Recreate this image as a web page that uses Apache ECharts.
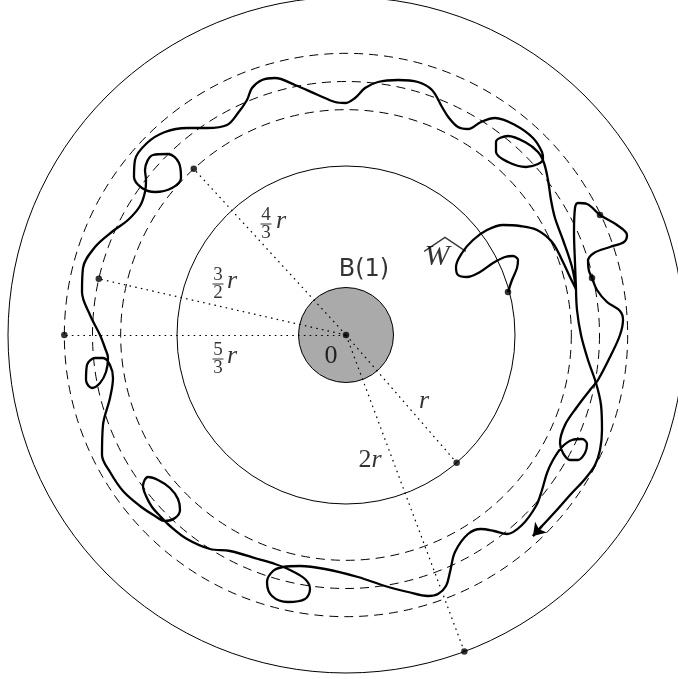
<!DOCTYPE html>
<html><head><meta charset="utf-8">
<script src="https://cdn.jsdelivr.net/npm/echarts/dist/echarts.min.js"></script>
<style>html,body{margin:0;padding:0;background:#fff}#c{width:678px;height:679px}</style>
</head><body><div id="c"></div>
<script>
// units: 1 unit = 1 px in this picture, origin at the centre 0, y upwards
const r = 169;
const solidRings = [1, 2];            // multiples of r
const dashedRings = [4/3, 3/2, 5/3];  // multiples of r
const ballRadius = [47.5];            // B(1)

// dotted rays from 0: radius factor (x r) and angle (deg)
const rayFactors = [4/3, 3/2, 5/3, 1, 2];
const rayAngles  = [132.5, 167.2, 180, -49.1, -69.5];

// the path W-hat, in three pieces (cusps between them)
const curveStart = [[162,43],[166,55],[171,67],[172,75],[167,79],[159,78],[147,72],[134,63],[121,58],[112,60],[110,68],[116,82],[127,95],[141,105],[157,110],[174,109],[191,105],[206,93],[216,75],[224,58],[230,46]];
const curveMain = [[230,46],[229,72],[228,103],[229,127],[232,132],[241,131],[254,120],[271,110],[281,100],[278,93],[264,88],[248,82],[242,74],[243,64],[246,57],[251,45],[261,33],[274,24],[277,15],[274,0],[265,-20],[252,-45],[244,-55],[231,-72],[219,-90],[214,-108],[217,-118],[224,-125],[232,-125],[239,-118],[241,-109],[236,-104],[226,-105],[216,-112],[207,-125],[201,-138],[196,-155],[190,-171],[176,-190],[161,-199],[148,-196],[135,-194],[122,-199],[109,-217],[104,-237],[100,-251],[92,-259],[82,-261],[62,-257],[39,-251],[12,-242],[-21,-234],[-46,-231],[-63,-232],[-73,-236],[-79,-247],[-74,-261],[-58,-267],[-41,-264],[-36,-254],[-41,-244],[-56,-235],[-71,-229],[-88,-224],[-116,-216],[-136,-214],[-159,-204],[-176,-191],[-186,-181],[-194,-172],[-200,-161],[-203,-151],[-198,-142],[-188,-145],[-176,-153],[-168,-164],[-166,-175],[-171,-183],[-181,-186],[-191,-181],[-206,-171],[-223,-156],[-236,-137],[-244,-120],[-243,-90],[-236,-63],[-233,-43],[-236,-30],[-243,-23],[-251,-23],[-259,-30],[-260,-45],[-254,-53],[-246,-48],[-240,-37],[-238,-23],[-241,-13],[-246,0],[-256,20],[-264,43],[-263,67],[-251,88],[-233,104],[-218,115],[-206,129],[-201,143],[-200,155],[-201,165],[-193,180],[-178,181],[-167,172],[-165,157],[-174,147],[-191,143],[-204,147],[-212,158],[-211,175],[-199,192],[-181,203],[-159,207],[-139,207],[-119,210],[-108,222],[-99,235],[-94,247],[-84,255],[-71,257],[-51,250],[-28,240],[-11,233],[-1,232],[9,237],[19,247],[32,253],[52,255],[72,253],[86,245],[96,228],[103,217],[112,208],[122,206],[135,213],[149,217],[169,210],[187,197],[196,183],[197,176],[192,171],[180,168],[162,173],[150,183],[150,193],[162,199],[179,193],[192,183],[198,172],[202,155],[205,135],[209,117],[217,95],[226,68],[230,46]];
const curveEnd = [[230,46],[231,25],[235,0],[242,-25],[250,-48],[255,-70],[256,-95],[254,-115],[249,-130],[239,-144],[225,-159],[209,-177],[196,-191],[187,-201]];
const curveDots = [[162,43],[254,120],[246,57]];

// texts
const fracNums = ['4', '3', '5'];
const fracDens = ['3', '2', '3'];
const fracAnchors = [[-80,111], [-128,51], [-128,-24]];
const fracRAnchors = [[-65,114], [-114,54], [-114,-21]];
const textItems = [
  {text: '{sf|B(1)}', at: [18,65]},
  {text: '{rm|0}', at: [-15,-21]},
  {text: '{it|r}', at: [78,-66]},
  {text: '{rm|2}{it|r}', at: [24,-125]},
  {text: '{itw|W}', at: [91,78]},
  {text: '{hat|︿}', at: [99,104]}
];

const rich = {
  rm: {fontFamily: 'Liberation Serif', fontSize: 26, color: '#000'},
  it: {fontFamily: 'Liberation Serif', fontSize: 26, fontStyle: 'italic', color: '#000'},
  itw: {fontFamily: 'Liberation Serif', fontSize: 30, fontStyle: 'italic', color: '#000'},
  sn: {fontFamily: 'Liberation Serif', fontSize: 19, lineHeight: 17, color: '#000', align: 'center'},
  bar: {width: 11, height: 1, lineHeight: 1, backgroundColor: '#000', align: 'center'},
  sf: {fontFamily: 'DejaVu Sans', fontSize: 24, color: '#000'},
  hat: {fontFamily: 'Noto Sans CJK SC', fontSize: 46, fontWeight: 'lighter', color: '#000'}
};

function rad(d) { return d * Math.PI / 180; }
const rayEnds = rayFactors.map((f, i) => [f * r * Math.cos(rad(rayAngles[i])), f * r * Math.sin(rad(rayAngles[i]))]);

function ringSeries(list, dash, z) {
  return {
    type: 'custom', coordinateSystem: 'cartesian2d', silent: true, z: z,
    data: list.map(f => [0, 0, f]),
    renderItem: function (params, api) {
      const c = api.coord([api.value(0), api.value(1)]);
      const rr = api.size([api.value(2) * r, 0])[0];
      return {type: 'circle', shape: {cx: c[0], cy: c[1], r: rr},
        style: {fill: 'none', stroke: '#000', lineWidth: 1, lineDash: dash}};
    }
  };
}

const ballSeries = {
  type: 'custom', coordinateSystem: 'cartesian2d', silent: true, z: 2,
  data: ballRadius.map(v => [0, 0, v]),
  renderItem: function (params, api) {
    const c = api.coord([api.value(0), api.value(1)]);
    const rr = api.size([api.value(2), 0])[0];
    return {type: 'circle', shape: {cx: c[0], cy: c[1], r: rr},
      style: {fill: '#aaaaaa', stroke: '#000', lineWidth: 1}};
  }
};

const curveStyle = {color: '#000', width: 2.3};
function curve(data) {
  return {type: 'line', data: data, smooth: 0.35, showSymbol: false, symbol: 'none',
    lineStyle: curveStyle, z: 6, silent: true, animation: false};
}

const labelData = [];
textItems.forEach(t => labelData.push({value: t.at, label: {formatter: t.text}}));
fracNums.forEach((n, i) => {
  labelData.push({value: fracAnchors[i], label: {formatter: '{sn|' + n + '}\n{bar| }\n{sn|' + fracDens[i] + '}'}});
  labelData.push({value: fracRAnchors[i], label: {formatter: '{it|r}'}});
});

const chart = echarts.init(document.getElementById('c'), null, {renderer: 'canvas'});
chart.setOption({
  animation: false,
  backgroundColor: '#fff',
  grid: {left: 0, right: 0, top: 0, bottom: 0},
  xAxis: {type: 'value', min: -346, max: 332, show: false},
  yAxis: {type: 'value', min: -344, max: 335, show: false},
  series: [
    ringSeries(solidRings, null, 1),
    ringSeries(dashedRings, [9, 6], 1),
    ballSeries,
    {type: 'lines', coordinateSystem: 'cartesian2d', z: 3, silent: true,
     data: rayEnds.map(e => ({coords: [[0, 0], e]})),
     lineStyle: {color: '#000', width: 1.2, type: [1.6, 4.2], opacity: 1}},
    curve(curveStart), curve(curveMain), curve(curveEnd),
    {type: 'lines', coordinateSystem: 'cartesian2d', z: 7, silent: true,
     data: [{coords: [curveEnd[curveEnd.length - 2], curveEnd[curveEnd.length - 1]]}],
     symbol: ['none', 'arrow'], symbolSize: [9, 12],
     lineStyle: {color: '#000', width: 2.3, opacity: 1}},
    {type: 'scatter', z: 8, silent: true, symbolSize: 6.5, itemStyle: {color: '#000'},
     data: [[0, 0]].concat(rayEnds, curveDots)},
    {type: 'scatter', z: 9, silent: true, symbolSize: 1, itemStyle: {color: 'rgba(0,0,0,0)'},
     data: labelData,
     label: {show: true, position: 'inside', align: 'center', verticalAlign: 'middle',
       color: '#000', textBorderWidth: 0, rich: rich}}
  ]
});
</script></body></html>
